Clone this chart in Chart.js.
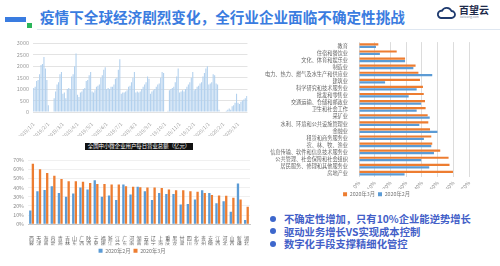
<!DOCTYPE html>
<html><head><meta charset="utf-8">
<script src="https://cdn.jsdelivr.net/npm/chart.js@4.4.1/dist/chart.umd.min.js"></script>
<style>
html,body{margin:0;padding:0;background:#fff;width:500px;height:266px;overflow:hidden;font-family:"Noto Sans CJK SC","Noto Sans",sans-serif;}
.abs{position:absolute;}
#title{left:40px;top:6px;font-size:14.6px;font-weight:bold;color:#3a7ce0;white-space:nowrap;line-height:21px;}
#bar1{left:5px;top:17px;width:21px;height:5px;background:#3a7ce0;}
#bar2{left:27px;top:23px;width:5px;height:5px;background:#2bb55a;}
#sep{left:37px;top:29px;width:463px;height:1px;background:#dfe7f1;}
#logoTxt{left:459px;top:3px;font-size:10px;font-weight:bold;color:#1e2a4a;line-height:14px;}
#logoSub{left:460px;top:15px;font-size:3px;color:#8a93a6;line-height:4px;}
#ctitle{left:85px;top:143px;width:108px;height:7px;background:#111;color:#fff;font-size:5.4px;line-height:7px;text-align:center;white-space:nowrap;}
.bl{left:284px;font-size:10.3px;font-weight:bold;color:#4360c8;white-space:nowrap;line-height:13px;}
.dot{width:6px;height:6px;border-radius:3px;background:#3d67cc;left:270px;}
</style></head>
<body>
<div class="abs" id="bar1"></div><div class="abs" id="bar2"></div>
<div class="abs" id="title">疫情下全球经济剧烈变化，全行业企业面临不确定性挑战</div>
<div class="abs" id="sep"></div>
<svg class="abs" style="left:436px;top:6px" width="21" height="14" viewBox="0 0 21 14"><path d="M5 12 H15.5 A3.5 3.5 0 0 0 15.5 5 A5.2 5.2 0 0 0 6 4.8 A3.6 3.6 0 0 0 5 12 Z" fill="none" stroke="#1e3a6e" stroke-width="1.8"/></svg>
<div class="abs" id="logoTxt">百望云</div>
<div class="abs" id="logoSub">baiwang.com</div>

<div class="abs" style="left:0;top:36px;width:252px;height:100px"><canvas id="c1"></canvas></div>
<div class="abs" id="ctitle">全国中小微企业用户每日营业总额（亿元）</div>
<div class="abs" style="left:0;top:153px;width:252px;height:113px"><canvas id="c2"></canvas></div>
<div class="abs" style="left:252px;top:36px;width:248px;height:171px"><canvas id="c3"></canvas></div>

<div class="abs dot" style="top:216px"></div>
<div class="abs bl" style="top:212px">不确定性增加，只有10%企业能逆势增长</div>
<div class="abs dot" style="top:228px"></div>
<div class="abs bl" style="top:224.5px">驱动业务增长VS实现成本控制</div>
<div class="abs dot" style="top:241px"></div>
<div class="abs bl" style="top:237px">数字化手段支撑精细化管控</div>

<script>
// ---- Top-left: daily turnover (3-day bins, 10 per month) ----
const monthTicks = ['2019/1/1','2019/2/1','2019/3/1','2019/4/1','2019/5/1','2019/6/1','2019/7/1','2019/8/1','2019/9/1','2019/10/1','2019/11/1','2019/12/1','2020/1/1','2020/2/1','2020/3/1'];
const binsPerMonth = [10,10,10,10,10,10,10,10,10,10,10,10,10,10,7];
const turnover = [
 1050,1100,1350,1400,1650,2050,2100,2400,1900,1400,
 300,0,0,0,600,900,1200,1300,1650,1750,
 800,850,600,1000,1050,1000,1550,1650,2000,2550,
 750,650,850,900,1000,1050,1350,1400,1600,1750,
 900,850,950,1100,1150,1200,1500,1600,1850,1950,
 1000,1050,1000,1100,1100,1200,1450,1500,1850,2300,
 800,850,850,900,950,1100,1150,1300,1500,1750,
 850,900,850,900,1000,1100,1200,1300,1550,1450,
 800,900,950,1000,1100,1200,1250,1500,1750,1700,
 0,0,50,950,1000,1050,1100,1300,1550,1900,
 850,900,950,900,1000,1100,1200,1300,1500,1750,
 950,1000,1100,1150,1250,1300,1550,1700,1900,2000,
 1200,1250,1300,1650,1600,1250,1200,100,0,0,
 0,0,50,100,150,100,250,300,400,800,
 400,350,450,500,550,600,700
];
const turnoverTicks = [0,500,1000,1500,2000,2500,3000];

// ---- Bottom-left: provinces ----
const provinces = ['西藏','天津','海南','内蒙古','青海','吉林','山东','广西','陕西','宁夏','福建','浙江','江苏','广东','河南','湖南','云南','辽宁','上海','重庆','黑龙江','甘肃','四川','北京','贵州','安徽','江西','河北','山西','新疆','湖北'];
const provFeb = [15,36,37.5,41.5,34,30,33.5,40,38,48,30,31.5,26.5,43.5,32.5,41,36,26.5,34,33,33,21.5,22,27,37,34,23,25,13.5,44.5,4.5];
const provMar = [66,60,56,53,49.5,47,47,46.5,45,44,44,43.5,43.5,41.5,41,40.5,40,40,39.5,38,37,37,36,35.5,34,32,31.5,31,29,27,19];

// ---- Right: industries ----
const industries = ['教育','住宿和餐饮业','文化、体育和娱乐业','制造业','电力、热力、燃气及水生产和供应业','建筑业','科学研究和技术服务业','批发和零售业','交通运输、仓储和邮政业','卫生和社会工作','采矿业','水利、环境和公共设施管理业','金融业','租赁和商务服务业','农、林、牧、渔业','信息传输、软件和信息技术服务业','公共管理、社会保障和社会组织','居民服务、修理和其他服务业','房地产业'];
const indMar = [12.3,24,29.3,36,37.8,38.8,40.7,41.2,42,42.4,43.7,44.1,45.2,46,46.6,51.7,57,57.6,59.8];
const indFeb = [10.8,13.3,29.3,34.6,46.6,16.6,36.7,31.6,39.5,36.7,45,38.4,49.9,41.3,46,47.7,39.6,44.7,29];

const pctTicks = [0,10,20,30,40,50,60,70];
const BLUE = '#5b9bd5', ORANGE = '#ed7d31';
const CJK = '"Noto Sans CJK SC","Noto Sans",sans-serif';
Chart.defaults.font.family = CJK;
Chart.defaults.animation = false;

const legendShift = {
  id:'legendShift',
  afterLayout(chart, args, opts){
    if (chart.legend && opts.dx) { chart.legend.left += opts.dx; chart.legend.right += opts.dx; }
  }
};

const dayLabels = [];
monthTicks.forEach((m,i)=>{ for(let j=0;j<binsPerMonth[i];j++) dayLabels.push(j===0?m:''); });

new Chart(document.getElementById('c1'), {
  type:'bar',
  data:{labels:dayLabels, datasets:[{data:turnover, backgroundColor:'#b3d1ee', barPercentage:0.75, categoryPercentage:1}]},
  options:{
    responsive:true, maintainAspectRatio:false,
    layout:{padding:{top:7,right:2,left:0,bottom:0}},
    plugins:{legend:{display:false},tooltip:{enabled:false}},
    scales:{
      x:{grid:{display:false}, border:{display:false},
         ticks:{autoSkip:false,minRotation:45,maxRotation:45,font:{size:5},color:'#a0a0a0',padding:1,
                callback:(v,i)=>dayLabels[i]},
         afterFit:a=>{a.height=24;}},
      y:{min:0,max:3000,
         afterBuildTicks:a=>{a.ticks=turnoverTicks.map(v=>({value:v}));},
         ticks:{autoSkip:false,font:{size:5.5},color:'#9a9a9a',padding:4,callback:v=>String(v)},
         grid:{color:'#e3e3e3',drawTicks:false}, border:{display:false},
         afterFit:a=>{a.width=33;}}
    }
  }
});

new Chart(document.getElementById('c2'), {
  type:'bar',
  data:{labels:provinces.map(p=>p.split('')), datasets:[
    {label:'2020年2月', data:provFeb, backgroundColor:BLUE, barPercentage:0.9, categoryPercentage:0.72},
    {label:'2020年3月', data:provMar, backgroundColor:ORANGE, barPercentage:0.9, categoryPercentage:0.72}
  ]},
  plugins:[legendShift],
  options:{
    responsive:true, maintainAspectRatio:false,
    layout:{padding:{top:6,right:2,left:0,bottom:2.5}},
    plugins:{
      legendShift:{dx:7},
      legend:{position:'bottom',labels:{boxWidth:4,boxHeight:4,font:{size:5.3},color:'#777',padding:3}},
      tooltip:{enabled:false}},
    scales:{
      x:{grid:{display:false}, border:{display:true,color:'#c8c8c8'},
         ticks:{autoSkip:false,maxRotation:0,font:{size:5,lineHeight:1.1},color:'#666',padding:3},
         afterFit:a=>{a.height=21;}},
      y:{min:0,max:70,
         afterBuildTicks:a=>{a.ticks=pctTicks.map(v=>({value:v}));},
         ticks:{autoSkip:false,font:{size:5.3},color:'#8a8a8a',padding:4,callback:v=>v+'%'},
         grid:{color:'#f0f0f0',drawTicks:false}, border:{display:false},
         afterFit:a=>{a.width=28;}}
    }
  }
});

new Chart(document.getElementById('c3'), {
  type:'bar',
  data:{labels:industries, datasets:[
    {label:'2020年3月', data:indMar, backgroundColor:ORANGE, barPercentage:0.9, categoryPercentage:0.7},
    {label:'2020年2月', data:indFeb, backgroundColor:BLUE, barPercentage:0.9, categoryPercentage:0.7}
  ]},
  plugins:[legendShift],
  options:{
    indexAxis:'y',
    responsive:true, maintainAspectRatio:false,
    layout:{padding:{top:4.7,right:31,left:0,bottom:0}},
    plugins:{
      legendShift:{dx:16},
      legend:{position:'bottom',labels:{boxWidth:4,boxHeight:4,font:{size:5.3},color:'#777',padding:3}},
      tooltip:{enabled:false}},
    scales:{
      x:{min:0,max:70,
         afterBuildTicks:a=>{a.ticks=pctTicks.map(v=>({value:v}));},
         ticks:{autoSkip:false,font:{size:5.3},color:'#8a8a8a',padding:3,callback:v=>v+'%'},
         grid:{color:'#dcdcdc',drawTicks:false}, border:{display:false},
         afterFit:a=>{a.height=12;}},
      y:{grid:{display:false}, border:{display:false},
         ticks:{autoSkip:false,font:{size:5.2},color:'#666',padding:3},
         afterFit:a=>{a.width=107;}}
    }
  }
});
</script>
</body></html>
